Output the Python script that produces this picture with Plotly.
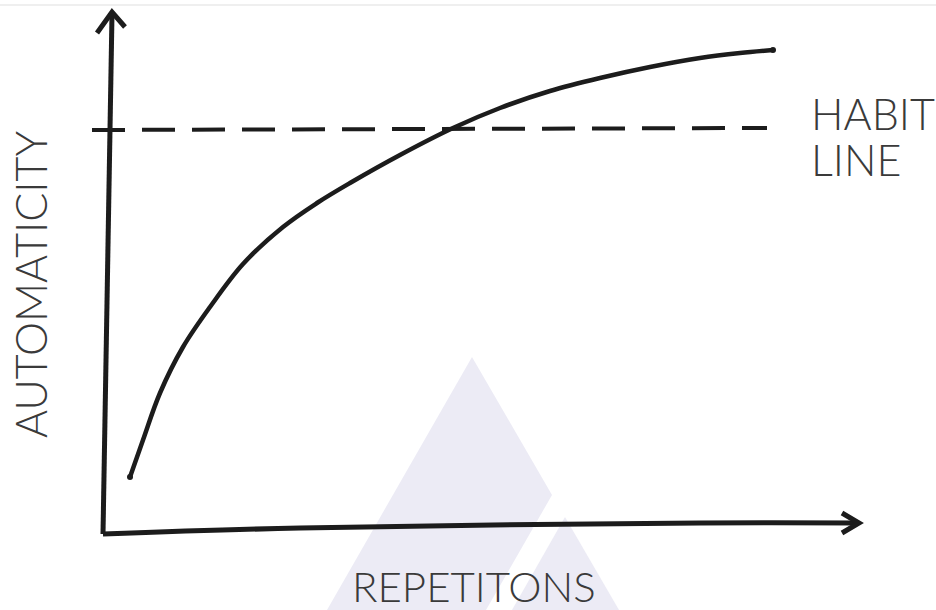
import plotly.graph_objects as go

# ---- data (units; origin at the axes corner) ----
repetitions = [27, 40, 57, 80, 107, 140, 180, 214, 247, 297, 350, 397, 447, 497, 547, 597, 637, 670]
automaticity = [55, 92, 139, 185, 225, 268, 305, 329, 349, 377, 404, 424, 441, 454, 465, 474, 479, 482]

habit_x = [-11, 664]
habit_y = [402, 404]

# hand-drawn axes
yaxis_x = [0, 9]
yaxis_y = [-2, 518]
yarrow_x = [-6, 9, 22]
yarrow_y = [499, 520, 505]
xaxis_x = [0, 197, 597, 755]
xaxis_y = [-2, 4, 9, 9]
xarrow_x = [739, 756, 739]
xarrow_y = [19, 9, -1]

INK = "#1c1c1c"
TXT = "#3a3a3a"
W, H = 936, 610

fig = go.Figure()

fig.add_trace(go.Scatter(x=habit_x, y=habit_y, mode="lines",
                         line=dict(color=INK, width=4, dash="33px,17px"),
                         hoverinfo="skip"))
fig.add_trace(go.Scatter(x=yaxis_x, y=yaxis_y, mode="lines",
                         line=dict(color=INK, width=5), hoverinfo="skip"))
fig.add_trace(go.Scatter(x=yarrow_x, y=yarrow_y, mode="lines",
                         line=dict(color=INK, width=5), hoverinfo="skip"))
fig.add_trace(go.Scatter(x=xaxis_x, y=xaxis_y, mode="lines",
                         line=dict(color=INK, width=5, shape="spline"), hoverinfo="skip"))
fig.add_trace(go.Scatter(x=xarrow_x, y=xarrow_y, mode="lines",
                         line=dict(color=INK, width=5), hoverinfo="skip"))
fig.add_trace(go.Scatter(x=repetitions, y=automaticity, mode="lines",
                         line=dict(color=INK, width=4.5, shape="spline", smoothing=1),
                         hoverinfo="skip"))
fig.add_trace(go.Scatter(x=[repetitions[0], repetitions[-1]],
                         y=[automaticity[0], automaticity[-1]], mode="markers",
                         marker=dict(color=INK, size=6), hoverinfo="skip"))


def px(x):
    return x / W


def py(y):
    return 1 - y / H


# faint watermark triangles and the thin top rule
wm = "#ecebf5"
fig.add_shape(type="path", xref="paper", yref="paper", layer="below",
              path=f"M {px(472)} {py(357)} L {px(552)} {py(495)} L {px(486)} {py(610)} L {px(327)} {py(610)} Z",
              fillcolor=wm, line=dict(width=0))
fig.add_shape(type="path", xref="paper", yref="paper", layer="below",
              path=f"M {px(565)} {py(517)} L {px(619)} {py(610)} L {px(512)} {py(610)} Z",
              fillcolor=wm, line=dict(width=0))
fig.add_shape(type="line", xref="paper", yref="paper", layer="below",
              x0=0, x1=1, y0=py(5), y1=py(5), line=dict(color="#efefef", width=2))

FAM = "Lato, 'Open Sans', sans-serif"
font = dict(family=FAM, size=43, color=TXT, weight=300)
fig.add_annotation(text="AUTOMATICITY", textangle=-90, xref="paper", yref="paper",
                   x=px(30), y=py(285), xanchor="center", yanchor="middle",
                   showarrow=False, font=font)
fig.add_annotation(text="REPETITONS", xref="paper", yref="paper",
                   x=px(474), y=py(586), xanchor="center", yanchor="middle",
                   height=40, showarrow=False, font=dict(family=FAM, size=42, color=TXT, weight=300))
fig.add_annotation(text="HABIT", xref="paper", yref="paper",
                   x=px(809), y=py(113), xanchor="left", yanchor="middle",
                   height=42, showarrow=False, font=font)
fig.add_annotation(text="LINE", xref="paper", yref="paper",
                   x=px(809), y=py(159), xanchor="left", yanchor="middle",
                   height=42, showarrow=False, font=font)

fig.update_layout(
    width=W, height=H,
    margin=dict(l=0, r=0, t=0, b=0),
    paper_bgcolor="white", plot_bgcolor="rgba(0,0,0,0)",
    showlegend=False,
    xaxis=dict(range=[-103, 833], visible=False, fixedrange=True),
    yaxis=dict(range=[-78, 532], visible=False, fixedrange=True),
)

fig.write_html("out.html", config={"displayModeBar": False},
               post_script="document.body.style.margin='0';")
